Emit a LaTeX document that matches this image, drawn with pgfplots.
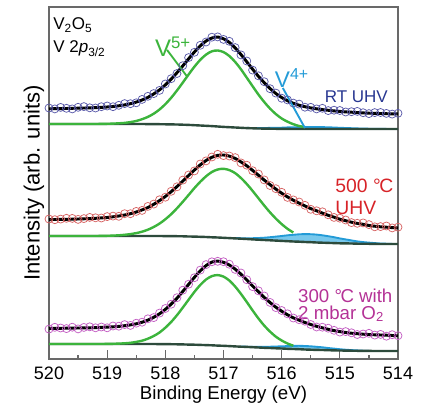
\documentclass[border=0pt]{standalone}
\usepackage{fontspec}
\setmainfont{Liberation Sans}
\usepackage{pgfplots}
\pgfplotsset{compat=1.18}
\usepackage{pgfplotstable}
\usepgfplotslibrary{fillbetween}

\definecolor{axisgray}{RGB}{105,105,105}
\definecolor{bgline}{RGB}{45,75,60}
\definecolor{vgreen}{RGB}{60,180,60}
\definecolor{vblue}{RGB}{35,155,215}
\definecolor{bluefill}{RGB}{120,200,236}
\definecolor{circA}{RGB}{90,90,170}
\definecolor{circB}{RGB}{215,100,100}
\definecolor{circC}{RGB}{195,95,195}
\definecolor{labA}{RGB}{40,55,145}
\definecolor{labB}{RGB}{215,35,40}
\definecolor{labC}{RGB}{180,50,150}

% RT UHV: x bg green blue fit data
\pgfplotstableread{
x bg green blue fit data
520.0 234.0 234.0 234.0 249.2 250.0
519.9 234.0 234.0 234.0 249.4 249.1
519.8 234.0 234.0 234.0 249.4 250.6
519.7 234.0 234.0 234.0 249.5 249.7
519.6 234.0 234.0 234.0 249.7 249.1
519.5 234.0 234.0 234.0 249.8 250.7
519.4 234.0 234.0 234.0 250.0 251.4
519.3 234.0 234.0 234.0 250.1 250.2
519.2 234.0 234.0 234.0 250.4 250.0
519.1 234.0 234.1 234.0 250.6 251.3
519.0 234.0 234.2 234.0 251.0 252.0
518.9 234.0 234.4 234.0 251.5 251.3
518.8 234.0 234.7 234.0 252.2 252.7
518.7 234.0 235.1 234.0 253.1 254.4
518.6 234.0 235.9 234.0 254.3 254.3
518.5 234.0 237.0 234.0 255.9 255.2
518.4 234.0 238.8 234.0 258.0 258.6
518.3 233.9 241.1 233.9 260.6 261.7
518.2 233.9 244.3 233.9 264.1 264.4
518.1 233.8 248.5 233.8 268.1 267.6
518.0 233.7 253.8 233.7 273.1 274.0
517.9 233.6 260.2 233.6 278.9 279.3
517.8 233.5 267.5 233.5 285.3 284.5
517.7 233.3 275.4 233.3 292.1 292.3
517.6 233.1 283.5 233.1 299.2 300.4
517.5 232.8 291.3 232.8 306.0 305.7
517.4 232.5 298.1 232.5 312.1 312.7
517.3 232.2 303.4 232.2 317.0 316.0
517.2 231.9 306.7 231.9 320.0 320.8
517.1 231.5 307.5 231.5 321.0 321.1
517.0 231.1 305.9 231.1 319.2 318.6
516.9 230.8 302.0 230.8 315.6 316.7
516.8 230.5 296.1 230.5 310.1 310.4
516.7 230.2 288.7 230.3 303.5 303.1
516.6 229.9 280.3 230.1 296.2 297.0
516.5 229.7 271.8 230.0 288.8 287.9
516.4 229.5 263.5 229.9 281.7 282.2
516.3 229.4 256.0 230.0 275.3 276.3
516.2 229.3 249.4 230.1 269.5 269.3
516.1 229.2 243.9 230.2 264.5 264.9
516.0 229.1 239.5 230.3 260.5 259.8
515.9 229.1 236.3 230.6 257.3 258.1
515.8 229.0 233.8 230.7 254.7 254.9
515.7 229.0 232.0 230.9 252.8 253.9
515.6 229.0 230.9 231.0 251.3 250.8
515.5 229.0 230.1 231.0 250.1 250.7
515.4 229.0 229.7 231.0 249.2 249.1
515.3 229.0 229.4 230.9 248.4 249.7
515.2 229.0 229.2 230.7 247.7 247.4
515.1 229.0 229.1 230.5 247.1 247.8
515.0 229.0 229.0 230.2 246.6 247.5
514.9 229.0 229.0 230.0 246.1 246.0
514.8 229.0 229.0 229.8 245.8 246.3
514.7 229.0 229.0 229.6 245.4 246.6
514.6 229.0 229.0 229.4 245.1 245.3
514.5 229.0 229.0 229.3 244.8 244.4
514.4 229.0 229.0 229.2 244.6 245.4
514.3 229.0 229.0 229.1 244.5 245.5
514.2 229.0 229.0 229.1 244.3 244.6
514.1 229.0 229.0 229.0 244.1 243.9
514.0 229.0 229.0 229.0 244.1 244.7
}\specA

% 500 C UHV
\pgfplotstableread{
x bg green blue fit data
520.0 122.0 122.0 122.0 138.4 139.0
519.9 122.0 122.0 122.0 138.5 138.3
519.8 122.0 122.0 122.0 138.6 138.9
519.7 122.0 122.0 122.0 138.7 139.7
519.6 122.0 122.0 122.0 138.8 139.6
519.5 122.0 122.0 122.0 139.0 138.6
519.4 122.0 122.0 122.0 139.2 139.4
519.3 122.0 122.0 122.0 139.4 140.6
519.2 122.0 122.0 122.0 139.7 140.2
519.1 122.0 122.1 122.0 140.1 140.0
519.0 122.0 122.2 122.0 140.5 141.4
518.9 122.0 122.4 122.0 141.2 141.9
518.8 122.0 122.7 122.0 142.0 141.7
518.7 122.0 123.2 122.0 143.0 144.3
518.6 122.0 123.9 122.0 144.3 144.3
518.5 122.0 124.9 122.0 146.0 146.6
518.4 122.0 126.3 122.0 148.1 147.6
518.3 122.0 128.3 122.0 150.5 151.6
518.2 122.0 131.0 122.0 153.7 153.9
518.1 122.0 134.4 122.0 157.4 158.2
518.0 121.9 138.7 121.9 161.5 160.8
517.9 121.8 143.8 121.8 166.3 166.7
517.8 121.8 149.7 121.8 171.4 171.2
517.7 121.7 156.2 121.7 176.9 177.9
517.6 121.5 163.0 121.5 182.5 183.0
517.5 121.4 169.9 121.4 188.0 187.1
517.4 121.2 176.2 121.2 193.1 194.0
517.3 121.0 181.7 121.0 197.5 197.1
517.2 120.7 186.0 120.7 200.7 201.0
517.1 120.5 188.5 120.5 202.6 203.7
517.0 120.2 189.2 120.2 203.0 202.4
516.9 119.9 187.9 119.9 201.9 202.0
516.8 119.6 184.9 119.9 199.6 200.4
516.7 119.3 180.0 119.8 196.1 195.1
516.6 119.0 174.0 119.8 192.2 192.8
516.5 118.6 167.1 119.8 187.6 187.3
516.4 118.3 159.8 120.0 182.8 184.0
516.3 118.0 152.5 120.3 177.9 178.1
516.2 117.7 145.6 120.8 173.3 172.5
516.1 117.4 139.4 121.4 168.9 169.3
516.0 117.1 133.9 122.0 164.8 165.7
515.9 116.8 129.2 122.7 161.1 160.6
515.8 116.5 125.5 123.2 157.8 158.1
515.7 116.3 122.6 123.7 154.9 156.0
515.6 116.0 120.3 123.9 152.1 152.7
515.5 115.8 118.7 123.8 149.4 148.7
515.4 115.5 117.4 123.4 147.2 147.2
515.3 115.3 116.5 122.7 144.9 146.2
515.2 115.1 115.8 121.8 142.7 143.2
515.1 114.9 115.3 120.8 140.8 140.6
515.0 114.7 114.9 119.6 138.8 139.8
514.9 114.6 114.6 118.6 137.3 138.0
514.8 114.5 114.5 117.6 135.8 135.4
514.7 114.3 114.3 116.6 134.6 134.7
514.6 114.2 114.2 115.9 133.7 135.1
514.5 114.2 114.2 115.4 132.5 133.4
514.4 114.1 114.1 114.9 131.8 131.2
514.3 114.0 114.0 114.5 131.2 131.4
514.2 114.0 114.0 114.3 130.8 132.0
514.1 114.0 114.0 114.2 130.4 130.1
514.0 114.0 114.0 114.1 130.0 130.8
}\specB

% 300 C with 2 mbar O2
\pgfplotstableread{
x bg green blue fit data
520.0 14.0 14.0 14.0 29.5 28.9
519.9 14.0 14.0 14.0 29.6 30.7
519.8 14.0 14.0 14.0 29.7 30.0
519.7 14.0 14.0 14.0 29.8 29.4
519.6 14.0 14.0 14.0 29.9 30.8
519.5 14.0 14.0 14.0 30.0 29.1
519.4 14.0 14.0 14.0 30.1 30.6
519.3 14.0 14.0 14.0 30.2 31.2
519.2 14.0 14.0 14.0 30.4 30.2
519.1 14.0 14.0 14.0 30.6 31.0
519.0 14.0 14.1 14.0 30.9 30.2
518.9 14.0 14.2 14.0 31.2 32.0
518.8 14.0 14.4 14.0 31.6 31.8
518.7 14.0 14.7 14.0 32.3 33.4
518.6 14.0 15.2 14.0 33.1 32.6
518.5 14.0 16.1 14.0 34.2 34.8
518.4 14.0 17.3 14.0 35.8 35.8
518.3 14.0 19.3 14.0 37.9 39.2
518.2 14.0 22.0 14.0 40.7 40.4
518.1 13.9 25.5 13.9 44.2 44.9
518.0 13.9 30.3 13.9 48.6 49.5
517.9 13.8 36.0 13.8 53.9 53.8
517.8 13.7 42.8 13.7 59.8 60.3
517.7 13.6 50.4 13.6 66.6 67.8
517.6 13.4 58.3 13.4 73.6 73.8
517.5 13.3 66.1 13.3 80.7 80.3
517.4 13.1 73.0 13.1 87.1 87.9
517.3 12.9 78.5 12.9 92.4 93.4
517.2 12.7 81.9 12.7 95.9 96.2
517.1 12.4 82.9 12.4 96.9 96.7
517.0 12.2 81.4 12.2 95.7 96.3
516.9 11.9 77.5 11.9 93.0 93.8
516.8 11.6 71.5 11.6 88.9 88.6
516.7 11.3 64.1 11.4 83.8 85.0
516.6 11.1 56.0 11.3 78.1 78.3
516.5 10.8 47.6 11.2 72.0 71.4
516.4 10.5 39.6 11.1 66.3 67.2
516.3 10.2 32.4 11.1 60.6 62.0
516.2 10.0 26.4 11.3 55.5 55.6
516.1 9.7 21.3 11.5 50.8 50.4
516.0 9.5 17.5 11.7 46.8 47.5
515.9 9.2 14.5 11.9 43.2 44.2
515.8 9.0 12.3 12.1 40.2 40.0
515.7 8.8 10.9 12.2 37.8 38.3
515.6 8.5 9.7 12.0 35.5 36.8
515.5 8.3 9.0 11.7 33.5 33.5
515.4 8.1 8.5 11.2 31.7 31.0
515.3 8.0 8.2 10.7 30.2 30.8
515.2 7.8 7.9 10.0 28.7 29.8
515.1 7.6 7.7 9.4 27.4 27.7
515.0 7.5 7.5 8.8 26.4 25.9
514.9 7.4 7.4 8.3 25.5 26.4
514.8 7.3 7.3 7.9 24.8 25.2
514.7 7.2 7.2 7.6 24.3 23.5
514.6 7.1 7.1 7.3 23.8 24.0
514.5 7.1 7.1 7.2 23.5 24.7
514.4 7.0 7.0 7.0 23.2 22.9
514.3 7.0 7.0 7.0 23.0 23.6
514.2 7.0 7.0 7.0 22.8 21.8
514.1 7.0 7.0 7.0 22.5 23.3
514.0 7.0 7.0 7.0 22.2 22.3
}\specC

\begin{document}
\begin{tikzpicture}
\begin{axis}[width=261.75pt, height=264pt, scale only axis,
  x dir=reverse, xmin=514, xmax=520, ymin=-1, ymax=351,
  xtick={514,515,...,520}, minor x tick num=1, ytick=\empty,
  xtick pos=left, tick align=inside,
  major tick length=6.5pt, minor tick length=3pt,
  axis line style={draw=axisgray, line width=1pt},
  tick style={axisgray, line width=0.9pt},
  /pgf/number format/assume math mode=true,
  ticklabel style={font=\fontsize{13.5}{16}\selectfont},
  xticklabel style={anchor=base, yshift=-15pt},
  xlabel={Binding Energy (eV)}, ylabel={Intensity (arb. units)},
  x label style={font=\fontsize{14}{17}\selectfont, at={(axis description cs:0.5,0)}, anchor=base, yshift=-30pt},
  y label style={font=\fontsize{16.5}{19}\selectfont, at={(axis description cs:-0.027,0.5)}, anchor=base},
  clip=false]

% ---- RT UHV
\addplot[draw=none, name path=abg] table[x=x,y=bg]{\specA};
\addplot[draw=none, name path=abl] table[x=x,y=blue]{\specA};
\addplot[bluefill] fill between[of=abl and abg];
\addplot[vblue, line width=1.4pt, restrict x to domain=514.2:516.6] table[x=x,y=blue]{\specA};
\addplot[bgline, line width=1.8pt, smooth] table[x=x,y=bg]{\specA};
\addplot[vgreen, line width=1.8pt, smooth, restrict x to domain=515.6:520] table[x=x,y=green]{\specA};
\addplot[only marks, mark=o, mark size=3pt, circA, mark options={line width=0.55pt}] table[x=x,y=data]{\specA};
\addplot[black, line width=2.2pt, smooth] table[x=x,y=fit]{\specA};

% ---- 500 C UHV
\addplot[draw=none, name path=bbg] table[x=x,y=bg]{\specB};
\addplot[draw=none, name path=bbl] table[x=x,y=blue]{\specB};
\addplot[bluefill] fill between[of=bbl and bbg];
\addplot[vblue, line width=1.4pt, smooth, restrict x to domain=514.1:516.8] table[x=x,y=blue]{\specB};
\addplot[bgline, line width=1.8pt, smooth] table[x=x,y=bg]{\specB};
\addplot[vgreen, line width=1.8pt, smooth, restrict x to domain=515.8:520] table[x=x,y=green]{\specB};
\addplot[only marks, mark=o, mark size=3pt, circB, mark options={line width=0.55pt}] table[x=x,y=data]{\specB};
\addplot[black, line width=2.2pt, smooth] table[x=x,y=fit]{\specB};

% ---- 300 C with 2 mbar O2
\addplot[draw=none, name path=cbg] table[x=x,y=bg]{\specC};
\addplot[draw=none, name path=cbl] table[x=x,y=blue]{\specC};
\addplot[bluefill] fill between[of=cbl and cbg];
\addplot[vblue, line width=1.4pt, smooth, restrict x to domain=514.5:516.7] table[x=x,y=blue]{\specC};
\addplot[bgline, line width=1.8pt, smooth] table[x=x,y=bg]{\specC};
\addplot[vgreen, line width=1.8pt, smooth, restrict x to domain=515.8:520] table[x=x,y=green]{\specC};
\addplot[only marks, mark=o, mark size=3pt, circC, mark options={line width=0.55pt}] table[x=x,y=data]{\specC};
\addplot[black, line width=2.2pt, smooth] table[x=x,y=fit]{\specC};

% labels
\node[anchor=base west, inner sep=0, font=\fontsize{12.75}{15}\selectfont] at (axis cs:519.93,328) {V\textsubscript{2}O\textsubscript{5}};
\node[anchor=base west, inner sep=0, font=\fontsize{12.75}{15}\selectfont] at (axis cs:519.93,305) {V 2\textit{p}\textsubscript{3/2}};
\node[anchor=base west, inner sep=0, vgreen, font=\fontsize{18}{20}\selectfont] at (axis cs:518.18,301) {V\textsuperscript{5+}};
\draw[vgreen, line width=1.4pt] (axis cs:517.97,308) -- (axis cs:517.62,281);
\node[anchor=base west, inner sep=0, vblue, font=\fontsize{17}{20}\selectfont] at (axis cs:516.12,270) {V\textsuperscript{4+}};
\draw[vblue, line width=1.4pt] (axis cs:515.98,270) -- (axis cs:515.60,230);
\node[anchor=base east, inner sep=0, labA, font=\fontsize{12.75}{15}\selectfont] at (axis cs:514.17,255) {RT UHV};
\node[anchor=base west, inner sep=0, labB, font=\fontsize{14.5}{17}\selectfont] at (axis cs:515.08,165) {500 °\kern-0.08em C};
\node[anchor=base west, inner sep=0, labB, font=\fontsize{14.5}{17}\selectfont] at (axis cs:515.08,143) {UHV};
\node[anchor=base west, inner sep=0, labC, font=\fontsize{14}{16}\selectfont] at (axis cs:515.72,56) {300 °\kern-0.08em C with};
\node[anchor=base west, inner sep=0, labC, font=\fontsize{14}{16}\selectfont] at (axis cs:515.72,39) {2 mbar O\textsubscript{2}};

\coordinate (bl) at (rel axis cs:0,0);
\coordinate (tr) at (rel axis cs:1,1);
\end{axis}
\pgfresetboundingbox
\path[use as bounding box] ([xshift=-36.75pt,yshift=-36pt]bl) rectangle ([xshift=19.5pt,yshift=5.25pt]tr);
\end{tikzpicture}
\end{document}
